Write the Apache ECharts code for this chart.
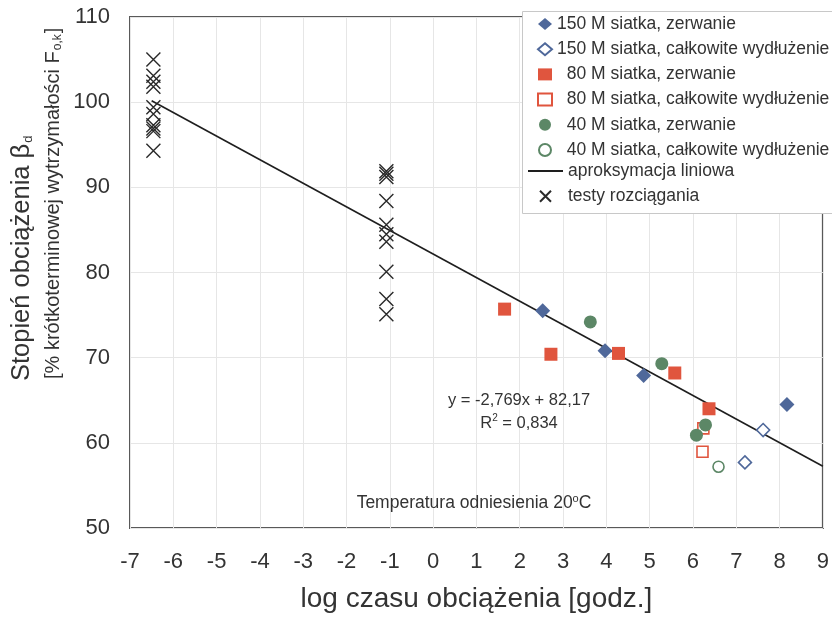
<!DOCTYPE html>
<html>
<head>
<meta charset="utf-8">
<script src="https://cdn.jsdelivr.net/npm/echarts@6/dist/echarts.min.js"></script>
<style>html,body{margin:0;padding:0;background:#fff}#c{width:832px;height:618px}</style>
</head>
<body>
<div id="c"></div>
<script>
// ---- data ----
const xTicks = [-7, 9, 1];           // min, max, interval
const yTicks = [50, 110, 10];
const s150break = [[2.53, 75.5], [3.97, 70.8], [4.86, 67.9], [8.17, 64.5]];
const s150elong = [[7.62, 61.5], [7.20, 57.7]];
const s80break  = [[1.65, 75.7], [2.72, 70.4], [4.28, 70.5], [5.58, 68.2], [6.37, 64.0]];
const s80elong  = [[6.24, 61.7], [6.22, 58.95]];
const s40break  = [[3.63, 74.2], [5.28, 69.3], [6.08, 60.9], [6.29, 62.1]];
const s40elong  = [[6.59, 57.2]];
const tensileX1 = -6.46;
const tensileY1 = [105.0, 103.1, 102.4, 101.8, 99.4, 98.6, 97.3, 96.9, 96.6, 94.3];
const tensileX2 = -1.08;
const tensileY2 = [91.9, 91.6, 91.2, 88.4, 85.6, 84.5, 83.6, 80.1, 76.9, 75.1];
const fitSlope = -2.769, fitIntercept = 82.17, fitRange = [-6.5, 9];
const names = [
  '150 M siatka, zerwanie',
  '150 M siatka, całkowite wydłużenie',
  '80 M siatka, zerwanie',
  '80 M siatka, całkowite wydłużenie',
  '40 M siatka, zerwanie',
  '40 M siatka, całkowite wydłużenie',
  'aproksymacja liniowa',
  'testy rozciągania'
];

const blue = '#4f689a', red = '#e0553e', green = '#5c8766';
const FONT = 'Liberation Sans, Arial, sans-serif';
const crossPath = 'path://M0,0L10,10M10,0L0,10';

const tensile = tensileY1.map(v => [tensileX1, v]).concat(tensileY2.map(v => [tensileX2, v]));
const fitLine = fitRange.map(x => [x, fitSlope * x + fitIntercept]);

const chart = echarts.init(document.getElementById('c'), null, {renderer: 'canvas'});
const labelColor = '#333';
const legendText = {fontFamily: FONT, fontSize: 17.5, color: labelColor, lineHeight: 17.5};
chart.setOption({
  animation: false,
  backgroundColor: '#fff',
  grid: {left: 130, right: 8, top: 17, bottom: 85, show: true, borderColor: '#595959', borderWidth: 2, backgroundColor: 'transparent'},
  xAxis: {
    type: 'value', min: xTicks[0], max: xTicks[1], interval: xTicks[2],
    name: 'log czasu obciążenia [godz.]', nameLocation: 'middle', nameGap: 57,
    nameTextStyle: {fontFamily: FONT, fontSize: 28, color: labelColor},
    axisLine: {show: false}, axisTick: {show: false},
    axisLabel: {fontFamily: FONT, fontSize: 22, color: labelColor, margin: 23},
    splitLine: {show: true, lineStyle: {color: '#e6e6e6', width: 1}}
  },
  yAxis: {
    type: 'value', min: yTicks[0], max: yTicks[1], interval: yTicks[2],
    axisLine: {show: false}, axisTick: {show: false},
    axisLabel: {fontFamily: FONT, fontSize: 22, color: labelColor, margin: 20},
    splitLine: {show: true, lineStyle: {color: '#e6e6e6', width: 1}}
  },
  legend: [{
    orient: 'vertical', left: 537, top: 15, padding: 0,
    itemWidth: 14, itemHeight: 12, itemGap: 7.2,
    data: names.slice(0, 6),
    formatter: n => n.startsWith('150') ? n : '\u2007' + n,
    textStyle: legendText
  }, {
    orient: 'vertical', left: 527, top: 162, padding: 0,
    itemWidth: 35, itemHeight: 11, itemGap: 7.2,
    data: [{name: names[6], itemStyle: {opacity: 0}}, {name: names[7]}],
    textStyle: legendText
  }],
  graphic: [
    {type: 'rect', z: 3, shape: {x: 522.5, y: 11.5, width: 320, height: 202}, style: {fill: '#fff', stroke: '#c8c8c8', lineWidth: 1}},
    {type: 'text', z: 5, x: 22, y: 381, rotation: Math.PI / 2,
     style: {text: 'Stopień obciążenia β{sub|d}', font: '25.5px ' + FONT, fill: labelColor, align: 'left', verticalAlign: 'middle',
             rich: {sub: {fontSize: 13, fontFamily: FONT, fill: labelColor, verticalAlign: 'bottom', padding: [11, 0, 0, 1]}}}},
    {type: 'text', z: 5, x: 53, y: 379, rotation: Math.PI / 2,
     style: {text: '[% krótkoterminowej wytrzymałości F{sub|o,k}]', font: '20px ' + FONT, fill: labelColor, align: 'left', verticalAlign: 'middle',
             rich: {sub: {fontSize: 12, fontFamily: FONT, fill: labelColor, verticalAlign: 'bottom', padding: [9, 1, 0, 1]}}}},
    {type: 'text', z: 5, x: 519, y: 400,
     style: {text: 'y = -2,769x + 82,17', font: '16.5px ' + FONT, fill: labelColor, align: 'center', verticalAlign: 'middle'}},
    {type: 'text', z: 5, x: 519, y: 423,
     style: {text: 'R{sup|2} = 0,834', font: '16.5px ' + FONT, fill: labelColor, align: 'center', verticalAlign: 'middle',
             rich: {sup: {fontSize: 10, fontFamily: FONT, fill: labelColor, verticalAlign: 'top', padding: [0, 0, 9, 0]}}}},
    {type: 'text', z: 5, x: 474, y: 503,
     style: {text: 'Temperatura odniesienia 20{sup|o}C', font: '17.5px ' + FONT, fill: labelColor, align: 'center', verticalAlign: 'middle',
             rich: {sup: {fontSize: 11, fontFamily: FONT, fill: labelColor, verticalAlign: 'top', padding: [0, 0, 9, 0]}}}}
  ],
  series: [
    {name: names[0], type: 'scatter', data: s150break, symbol: 'diamond', symbolSize: 15, itemStyle: {color: blue, opacity: 1}},
    {name: names[1], type: 'scatter', data: s150elong, symbol: 'diamond', symbolSize: 13, itemStyle: {color: '#fff', borderColor: blue, borderWidth: 1.6, opacity: 1}},
    {name: names[2], type: 'scatter', data: s80break, symbol: 'rect', symbolSize: 13, itemStyle: {color: red, opacity: 1}},
    {name: names[3], type: 'scatter', data: s80elong, symbol: 'rect', symbolSize: 11, itemStyle: {color: '#fff', borderColor: red, borderWidth: 1.6, opacity: 1}},
    {name: names[4], type: 'scatter', data: s40break, symbol: 'circle', symbolSize: 13, itemStyle: {color: green, opacity: 1}},
    {name: names[5], type: 'scatter', data: s40elong, symbol: 'circle', symbolSize: 11, itemStyle: {color: '#fff', borderColor: green, borderWidth: 1.6, opacity: 1}},
    {name: names[6], type: 'line', data: fitLine, symbol: 'none', itemStyle: {color: 'transparent'}, lineStyle: {color: '#1e1e1e', width: 1.6}, z: 1},
    {name: names[7], type: 'scatter', data: tensile, symbol: crossPath, symbolSize: 14, itemStyle: {color: '#2a2a2a', borderColor: '#2a2a2a', borderWidth: 1.4, opacity: 1}}
  ]
});
</script>
</body>
</html>
